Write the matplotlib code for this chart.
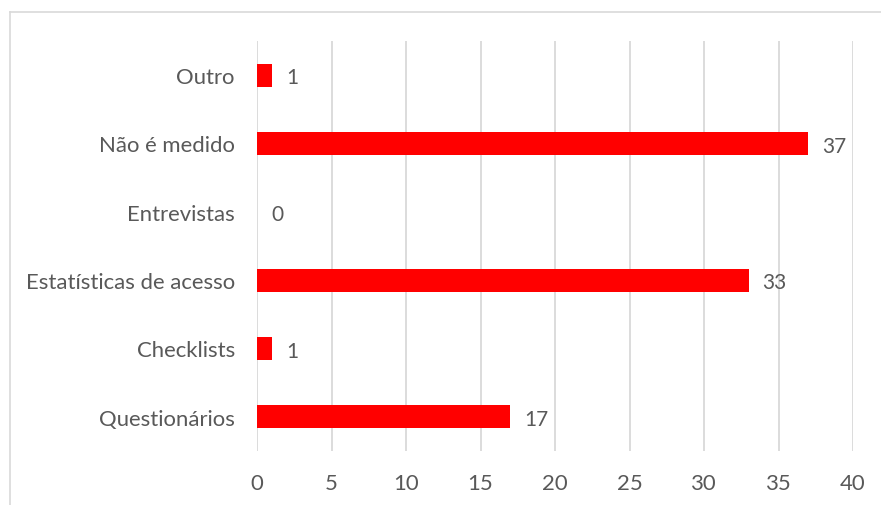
import matplotlib.pyplot as plt
from matplotlib.lines import Line2D

categories = ["Questionários", "Checklists", "Estatísticas de acesso",
              "Entrevistas", "Não é medido", "Outro"]
values = [17, 1, 33, 0, 37, 1]

text_color = "#595959"
grid_color = "#d9d9d9"
bar_color = "#ff0000"

plt.rcParams["font.family"] = ["Lato", "DejaVu Sans"]

fig = plt.figure(figsize=(8.81, 5.06), dpi=100)
ax = fig.add_axes([257 / 881, 1 - 452 / 506, (853 - 257) / 881, (452 - 42) / 506])

ypos = list(range(len(categories)))
ax.barh(ypos, values, height=0.34, color=bar_color, zorder=3)
for y, v in zip(ypos, values):
    ax.annotate(str(v), (v, y), xytext=(10, -1.5), textcoords="offset points",
                ha="left", va="center", fontsize=15, color=text_color)

ax.set_xlim(0, 40)
ax.set_ylim(-0.5, len(categories) - 0.5)
ax.set_xticks(range(0, 41, 5))
ax.set_yticks(ypos)
ax.set_yticklabels(categories)
ax.tick_params(axis="both", length=0, labelsize=15.9, labelcolor=text_color)
ax.tick_params(axis="x", pad=16)
ax.tick_params(axis="y", pad=16)
ax.grid(axis="x", color=grid_color, linewidth=1.3, zorder=0)
for s in ax.spines.values():
    s.set_visible(False)

# chart border
x0, y0 = 9.5 / 881, 1 - 12.5 / 506
fig.add_artist(Line2D([x0, 1.01], [y0, y0], transform=fig.transFigure, color=grid_color, lw=1.2))
fig.add_artist(Line2D([x0, x0], [-0.01, y0], transform=fig.transFigure, color=grid_color, lw=1.2))

fig.savefig("out.png", dpi=100)
